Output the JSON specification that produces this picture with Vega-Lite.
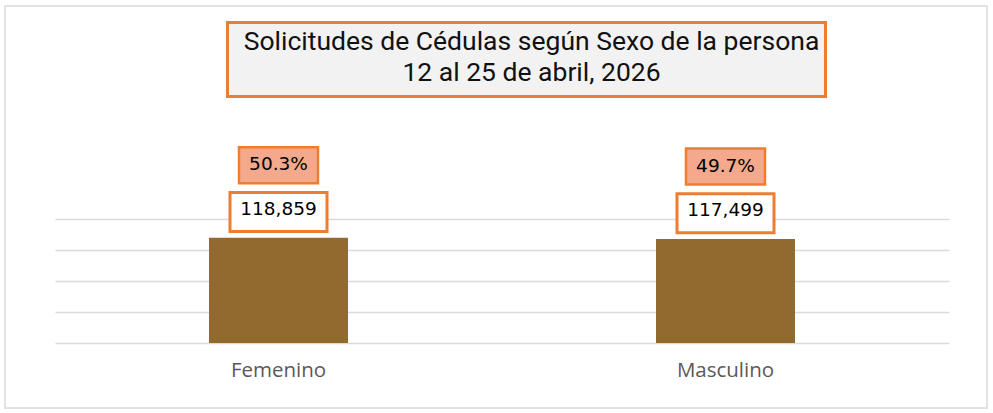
{
  "$schema": "https://vega.github.io/schema/vega-lite/v6.json",
  "width": 982,
  "height": 402,
  "autosize": {"type": "none"},
  "padding": {"left": 5, "top": 6, "right": 6, "bottom": 5},
  "background": "white",
  "config": {
    "view": {"stroke": "#E2E2E2", "strokeWidth": 2, "fill": "white"}
  },
  "data": {
    "values": [
      {"sexo": "Femenino", "solicitudes": 118859, "porcentaje": 0.503},
      {"sexo": "Masculino", "solicitudes": 117499, "porcentaje": 0.497}
    ]
  },
  "layer": [
    {
      "mark": {"type": "bar", "size": 139, "color": "#926A30"},
      "encoding": {
        "x": {
          "field": "sexo",
          "type": "nominal",
          "sort": null,
          "scale": {"range": [50, 944], "paddingInner": 0, "paddingOuter": 0},
          "axis": {
            "title": null,
            "labelAngle": 0,
            "labelFont": "Open Sans",
            "labelFontSize": 20.5,
            "labelColor": "#595959",
            "labelPadding": 17,
            "ticks": false,
            "tickSize": 0,
            "domain": false,
            "grid": false,
            "offset": -65
          }
        },
        "y": {
          "field": "solicitudes",
          "type": "quantitative",
          "scale": {"domain": [0, 140000], "range": [337, 213], "nice": false, "zero": true},
          "axis": {
            "title": null,
            "values": [0, 35000, 70000, 105000, 140000],
            "grid": true,
            "gridColor": "#DADADA",
            "gridWidth": 1.6,
            "labels": false,
            "ticks": false,
            "domain": false
          }
        }
      }
    },
    {
      "mark": {
        "type": "point",
        "shape": "M-48.5,-19.5L48.5,-19.5L48.5,19.5L-48.5,19.5Z",
        "size": 4,
        "filled": true,
        "fill": "white",
        "stroke": "#ED7D31",
        "strokeWidth": 3,
        "opacity": 1,
        "yOffset": -25.8
      },
      "encoding": {
        "x": {"field": "sexo", "type": "nominal", "sort": null},
        "y": {"field": "solicitudes", "type": "quantitative"}
      }
    },
    {
      "mark": {
        "type": "text",
        "font": "DejaVu Sans",
        "fontSize": 18.5,
        "color": "#000000",
        "baseline": "alphabetic",
        "align": "center",
        "yOffset": -22.5
      },
      "encoding": {
        "x": {"field": "sexo", "type": "nominal", "sort": null},
        "y": {"field": "solicitudes", "type": "quantitative"},
        "text": {"field": "solicitudes", "type": "quantitative", "format": ",.0f"}
      }
    },
    {
      "mark": {
        "type": "point",
        "shape": "M-39.5,-18L39.5,-18L39.5,18L-39.5,18Z",
        "size": 4,
        "filled": true,
        "fill": "#F4A88C",
        "stroke": "#ED7D31",
        "strokeWidth": 2.5,
        "opacity": 1,
        "yOffset": -72.5
      },
      "encoding": {
        "x": {"field": "sexo", "type": "nominal", "sort": null},
        "y": {"field": "solicitudes", "type": "quantitative"}
      }
    },
    {
      "mark": {
        "type": "text",
        "font": "DejaVu Sans",
        "fontSize": 18.5,
        "color": "#000000",
        "baseline": "alphabetic",
        "align": "center",
        "yOffset": -67.3
      },
      "encoding": {
        "x": {"field": "sexo", "type": "nominal", "sort": null},
        "y": {"field": "solicitudes", "type": "quantitative"},
        "text": {"field": "porcentaje", "type": "quantitative", "format": ".1%"}
      }
    },
    {
      "data": {"values": [{"titulo": "Solicitudes de Cédulas según Sexo de la persona\n12 al 25 de abril, 2026"}]},
      "layer": [
        {
          "mark": {
            "type": "point",
            "shape": "M-299,-37L299,-37L299,37L-299,37Z",
            "size": 4,
            "filled": true,
            "fill": "#F2F2F2",
            "stroke": "#ED7D31",
            "strokeWidth": 3,
            "opacity": 1,
            "xOffset": 30.5,
            "yOffset": -147.5
          },
          "encoding": {}
        },
        {
          "mark": {
            "type": "text",
            "font": "Roboto",
            "fontSize": 26.5,
            "lineHeight": 31,
            "lineBreak": "\n",
            "color": "#111111",
            "baseline": "top",
            "align": "center",
            "xOffset": 35.5,
            "yOffset": -178
          },
          "encoding": {
            "text": {"field": "titulo", "type": "nominal"}
          }
        }
      ]
    }
  ]
}
